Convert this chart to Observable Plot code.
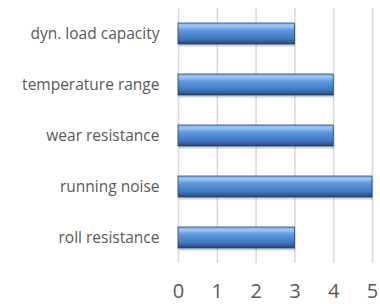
<!DOCTYPE html>
<html>
<head>
<meta charset="utf-8">
<script src="https://cdn.jsdelivr.net/npm/d3@7"></script>
<script src="https://cdn.jsdelivr.net/npm/@observablehq/plot@0.6"></script>
<style>
  body { margin: 0; background: #fff; }
  #chart svg { display: block; }
</style>
</head>
<body>
<div id="chart"></div>
<script>
const categories = ["dyn. load capacity", "temperature range", "wear resistance", "running noise", "roll resistance"];
const values = [3, 4, 4, 5, 3];
const xTicks = [0, 1, 2, 3, 4, 5];

const data = categories.map((c, i) => ({category: c, value: values[i]}));

const plot = Plot.plot({
  width: 380,
  height: 304,
  marginLeft: 178,
  marginRight: 8,
  marginTop: 8,
  marginBottom: 41,
  style: {fontFamily: "Open Sans", background: "#fff", overflow: "visible"},
  x: {domain: [0, 5], ticks: xTicks},
  y: {domain: categories, paddingInner: 0.59, paddingOuter: 0.295},
  marks: [
    Plot.gridX(xTicks, {stroke: "#d9d9d9", strokeWidth: 1.5, strokeOpacity: 1}),
    Plot.barX(data, {x: "value", y: "category", fill: "#000", fillOpacity: 0.18, dy: 2.5, dx: 1, style: "filter: blur(1.5px)"}),
    Plot.barX(data, {x: "value", y: "category", fill: "url(#barGrad)", stroke: "#27456b", strokeWidth: 0.8}),
    Plot.axisY({tickSize: 0, tickPadding: 19, fontSize: 15.5, color: "#595959", label: null}),
    Plot.axisX(xTicks, {tickSize: 0, tickPadding: 20, fontSize: 20, color: "#595959", label: null})
  ]
});

const ns = "http://www.w3.org/2000/svg";
const defs = document.createElementNS(ns, "defs");
defs.innerHTML = `
  <linearGradient id="barGrad" x1="0" y1="0" x2="0" y2="1">
    <stop offset="0" stop-color="#7fb2ee"/>
    <stop offset="0.15" stop-color="#9cc6f6"/>
    <stop offset="0.35" stop-color="#5f98dc"/>
    <stop offset="0.75" stop-color="#3f78c0"/>
    <stop offset="0.9" stop-color="#2f5d98"/>
    <stop offset="1" stop-color="#1f3f68"/>
  </linearGradient>`;
plot.insertBefore(defs, plot.firstChild);
document.getElementById("chart").appendChild(plot);
</script>
</body>
</html>
